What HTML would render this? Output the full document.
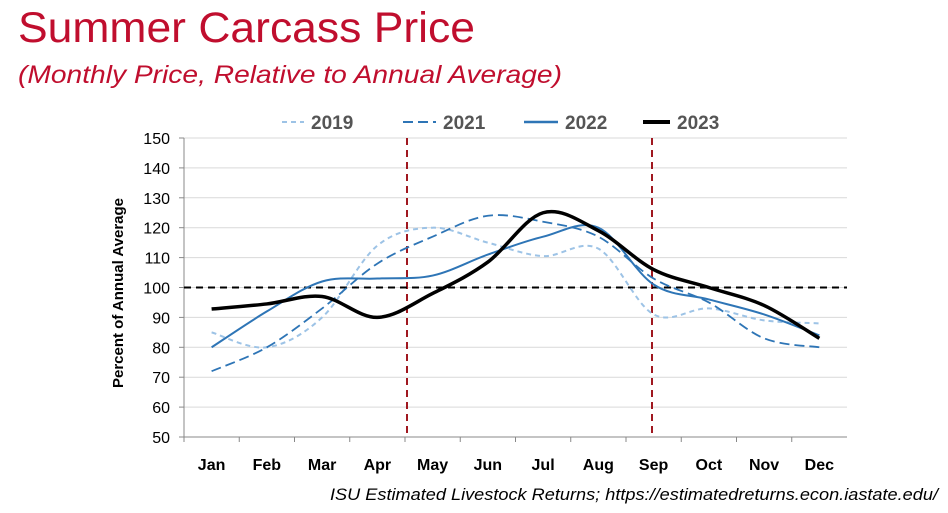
<!DOCTYPE html>
<html><head><meta charset="utf-8"><style>
body{margin:0;background:#fff;width:948px;height:508px;overflow:hidden;font-family:"Liberation Sans",sans-serif}
</style></head><body>
<svg id="s" width="948" height="508" xmlns="http://www.w3.org/2000/svg" font-family="Liberation Sans, sans-serif">
<text x="18" y="42" font-size="43" fill="#C00E2E" textLength="457" lengthAdjust="spacingAndGlyphs">Summer Carcass Price</text>
<text x="18" y="83" font-size="25" font-style="italic" fill="#C00E2E" textLength="544" lengthAdjust="spacingAndGlyphs">(Monthly Price, Relative to Annual Average)</text>
<g id="grid"></g>
<line x1="184" y1="138" x2="184" y2="437" stroke="#888"/>
<line x1="184" y1="437" x2="847" y2="437" stroke="#888"/>
<line x1="407" y1="138" x2="407" y2="437" stroke="#A01820" stroke-width="2" stroke-dasharray="7,5"/>
<line x1="652" y1="138" x2="652" y2="437" stroke="#A01820" stroke-width="2" stroke-dasharray="7,5"/>
<line x1="184" y1="287.5" x2="847" y2="287.5" stroke="#000" stroke-width="2" stroke-dasharray="7,5"/>
<g id="lines"></g>
<text transform="translate(123,293) rotate(-90)" text-anchor="middle" font-size="15" font-weight="bold">Percent of Annual Average</text>
<g font-size="19" font-weight="bold" fill="#555">
<line x1="282" y1="122" x2="304" y2="122" stroke="#9DC3E6" stroke-width="2" stroke-dasharray="5,4"/><text x="311" y="129">2019</text>
<line x1="403" y1="122" x2="436" y2="122" stroke="#2E75B6" stroke-width="2" stroke-dasharray="10,5"/><text x="443" y="129">2021</text>
<line x1="524" y1="122" x2="558" y2="122" stroke="#2E75B6" stroke-width="2.5"/><text x="565" y="129">2022</text>
<line x1="643" y1="122" x2="670" y2="122" stroke="#000" stroke-width="4"/><text x="677" y="129">2023</text>
</g>
<text x="330" y="500" font-size="17" font-style="italic" textLength="608" lengthAdjust="spacingAndGlyphs">ISU Estimated Livestock Returns; https://estimatedreturns.econ.iastate.edu/</text>
</svg>
<script>
const NS="http://www.w3.org/2000/svg";
const g=document.getElementById('grid'),L=document.getElementById('lines');
const Y=v=>437-(v-50)*2.99, X=i=>211.6+i*55.25;
function el(p,t,a,txt){const e=document.createElementNS(NS,t);for(const k in a)e.setAttribute(k,a[k]);if(txt)e.textContent=txt;p.appendChild(e);return e;}
for(let v=50;v<=150;v+=10){const y=Y(v);if(v>50)el(g,'line',{x1:184,x2:847,y1:y,y2:y,stroke:'#d9d9d9'});
el(g,'line',{x1:179,x2:184,y1:y,y2:y,stroke:'#888'});
el(g,'text',{x:170,y:y+6,'text-anchor':'end','font-size':16},v);}
const m=['Jan','Feb','Mar','Apr','May','Jun','Jul','Aug','Sep','Oct','Nov','Dec'];
m.forEach((t,i)=>{el(g,'text',{x:X(i),y:470,'text-anchor':'middle','font-size':16,'font-weight':'bold'},t);
const xb=184+i*55.25;el(g,'line',{x1:xb,x2:xb,y1:437,y2:442,stroke:'#888'});});
function path(d){const p=d.map((v,i)=>[X(i),Y(v)]);let s='M'+p[0];
for(let i=0;i<p.length-1;i++){const p0=p[i-1]||p[i],p1=p[i],p2=p[i+1],p3=p[i+2]||p2;
const c1=[p1[0]+(p2[0]-p0[0])/6,p1[1]+(p2[1]-p0[1])/6],c2=[p2[0]-(p3[0]-p1[0])/6,p2[1]-(p3[1]-p1[1])/6];
s+='C'+c1+' '+c2+' '+p2;}return s;}
const S=[
[[85,80,90,114,120,115,110.5,113,91,93,89,88],'#9DC3E6',2,'5,4'],
[[72,80,93,108,117,124,122,117,103,95,83,80],'#2E75B6',1.8,'10,5'],
[[80,92,102,103,104,111,117,120,101,96,91,84],'#2E75B6',2,''],
[[92.8,94.5,97,90,98,108.5,125,119,106,100,94,83],'#000',3.5,'']];
S.forEach(([d,c,w,da])=>el(L,'path',{d:path(d),fill:'none',stroke:c,'stroke-width':w,'stroke-dasharray':da}));
</script>
</body></html>
